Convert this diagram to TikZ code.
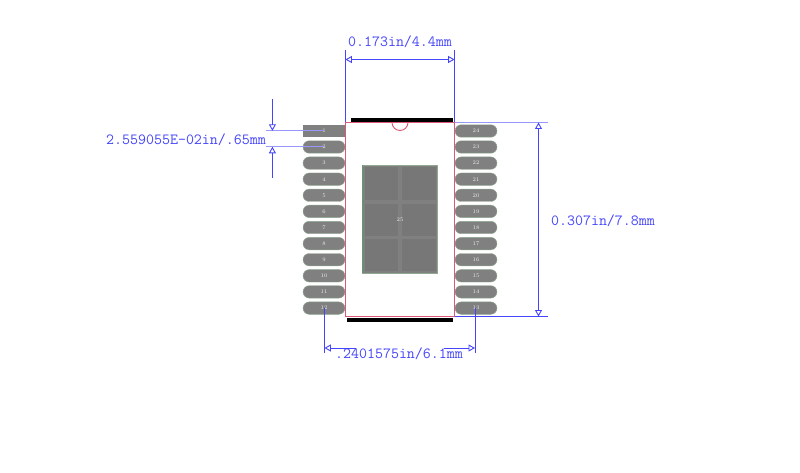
\documentclass[tikz,border=0pt]{standalone}
\usepackage{fontspec}
\usetikzlibrary{arrows.meta,shapes.misc}
\definecolor{dimblue}{HTML}{4444FA}
\definecolor{bodypink}{HTML}{DC5878}
\definecolor{padgray}{HTML}{808080}
\definecolor{subgray}{HTML}{777777}
\definecolor{padedge}{HTML}{8FA88F}
\definecolor{epadgreen}{HTML}{5F9A6F}
\tikzset{
  padpill/.style={shape=rounded rectangle,minimum width=42pt,minimum height=12.4pt,inner sep=0pt,fill=padgray,draw=padedge,line width=.4pt,text=white!85!gray,font=\fontsize{5.5}{6}\selectfont},
  padrect/.style={shape=rectangle,minimum width=42pt,minimum height=12.2pt,inner sep=0pt,fill=padgray,text=white!85!gray,font=\fontsize{5.5}{6}\selectfont},
  dimline/.style={draw=dimblue,line width=.9pt},
  dimsoft/.style={draw=dimblue!55,line width=1.1pt},
  dimarrow/.style={draw=dimblue,line width=.9pt,-{Triangle[open,length=6.5pt,width=7pt]}},
  dimboth/.style={draw=dimblue,line width=.9pt,{Triangle[open,length=6.5pt,width=7pt]}-{Triangle[open,length=6.5pt,width=7pt]}},
  dimtext/.style={text=dimblue,inner sep=0pt,font=\ttfamily\fontsize{15.5}{16}\selectfont},
  barblack/.style={fill=black,draw=none},
  epad/.style={fill=padgray,draw=padedge,line width=.9pt},
  epadcell/.style={fill=subgray,draw=none}
}
\begin{document}
\begin{tikzpicture}[x=1pt,y=-1pt]
\useasboundingbox (0,0) rectangle (800,473);
% package body
\fill[white] (345.3,122.5) rectangle (454.7,316.5);
\fill[barblack] (350.8,117.8) rectangle (452.8,121.8);
\fill[barblack] (347.3,317.6) rectangle (452.8,321.6);
\draw[bodypink,line width=.9pt] (392,122.5) arc[start angle=180,end angle=0,radius=8];
\draw[bodypink,line width=.9pt] (345.3,122.5) rectangle (454.7,316.5);
% pads
\node[padrect] (p1) at (324,131) {1};
\foreach \n/\yy in {2/147,3/163.1,4/179.2,5/195.3,6/211.4,7/227.5,8/243.6,9/259.7,10/275.8,11/291.9,12/308.1}{
  \node[padpill] (p\n) at (324,\yy) {\n};
}
\foreach \n/\yy in {24/131,23/147,22/163.1,21/179.2,20/195.3,19/211.4,18/227.5,17/243.6,16/259.7,15/275.8,14/291.9,13/308.1}{
  \node[padpill] (p\n) at (476,\yy) {\n};
}
% exposed pad
\draw[epad] (362.6,165.5) rectangle (437.6,273.2);
\draw[epadgreen,line width=.9pt] (362.6,165.5) -- (362.6,273.2);
\foreach \xa/\xb in {364.5/398.4,401.8/435.7}{
  \foreach \ya/\yb in {167.4/200,204/236,239.3/271}{
    \fill[epadcell] (\xa,\ya) rectangle (\xb,\yb);
  }
}
\node[text=white!85!gray,inner sep=0pt,font=\fontsize{5.5}{6}\selectfont] (p25) at (400,219.8) {25};
% top dimension
\coordinate (ta) at (345.4,50.5);
\coordinate (tb) at (345.4,122.5);
\coordinate (tc) at (454.6,50.5);
\coordinate (td) at (454.6,122.5);
\coordinate (te) at (345.4,59.5);
\coordinate (tf) at (454.6,59.5);
\draw[dimline] (ta) -- (tb);
\draw[dimline] (tc) -- (td);
\draw[dimboth] (te) -- (tf);
\node[dimtext] (tt) at (400,41.5) {0.173in/4.4mm};
% right dimension
\coordinate (ra) at (454.6,122.5);
\coordinate (rb) at (548,122.5);
\coordinate (rc) at (454.6,316.5);
\coordinate (rd) at (548,316.5);
\coordinate (re) at (538.5,122.5);
\coordinate (rf) at (538.5,316.5);
\draw[dimsoft] (ra) -- (rb);
\draw[dimline] (rc) -- (rd);
\draw[dimboth] (re) -- (rf);
\node[dimtext] (rt) at (603,220.5) {0.307in/7.8mm};
% left dimension
\coordinate (la) at (266,130.8);
\coordinate (lb) at (324,130.8);
\coordinate (lc) at (266,146.8);
\coordinate (ld) at (324,146.8);
\coordinate (le) at (272.4,99);
\coordinate (lf) at (272.4,130.8);
\coordinate (lg) at (272.4,178);
\coordinate (lh) at (272.4,146.8);
\draw[dimsoft] (la) -- (lb);
\draw[dimsoft] (lc) -- (ld);
\draw[dimarrow] (le) -- (lf);
\draw[dimarrow] (lg) -- (lh);
\node[dimtext] (lt) at (186,139.5) {2.559055E-02in/.65mm};
% bottom dimension
\coordinate (ba) at (324.4,308);
\coordinate (bb) at (324.4,353);
\coordinate (bc) at (475,308);
\coordinate (bd) at (475,353);
\coordinate (be) at (324.4,348);
\coordinate (bf) at (356,348);
\coordinate (bg) at (475,348);
\coordinate (bh) at (444,348);
\draw[dimline] (ba) -- (bb);
\draw[dimline] (bc) -- (bd);
\draw[dimarrow] (bf) -- (be);
\draw[dimarrow] (bh) -- (bg);
\node[dimtext] (bt) at (399,353.5) {.2401575in/6.1mm};
\end{tikzpicture}
\end{document}
